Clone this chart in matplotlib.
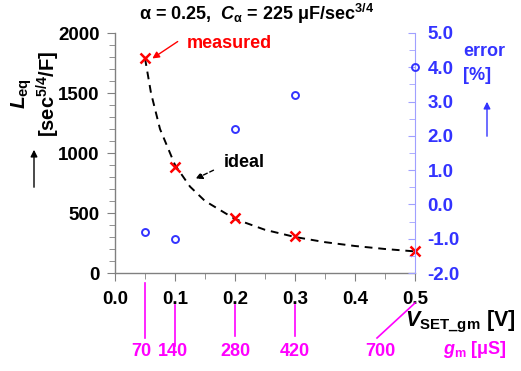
import matplotlib
matplotlib.use("Agg")
import matplotlib.pyplot as plt
from matplotlib.ticker import MultipleLocator, FormatStrFormatter

plt.rcParams['font.family'] = ['Liberation Sans', 'DejaVu Sans']
plt.rcParams['mathtext.fontset'] = 'custom'
plt.rcParams['mathtext.rm'] = 'Liberation Sans:bold'
plt.rcParams['mathtext.it'] = 'Liberation Sans:bold:italic'
plt.rcParams['mathtext.bf'] = 'Liberation Sans:bold'

# Data
v_set = [0.05, 0.1, 0.2, 0.3, 0.5]
l_measured = [1790, 880, 460, 305, 185]
error_pct = [-0.8, -1.0, 2.2, 3.2, 4.0]
v_ideal = [0.05, 0.06, 0.075, 0.1, 0.125, 0.15, 0.2, 0.25, 0.3, 0.35, 0.4, 0.45, 0.5]
l_ideal = [1790, 1500, 1200, 900, 720, 600, 450, 360, 300, 257, 225, 200, 180]
gm_labels = ['70', '140', '280', '420', '700']

W, H = 521, 371
fig = plt.figure(figsize=(W / 100, H / 100), dpi=100)
ax = fig.add_axes([115 / W, 1 - 273 / H, 300 / W, 240 / H])

FS = 13
TFS = 13.5

ax.plot(v_ideal, l_ideal, linestyle=(0, (4, 3)), color='black', lw=1.4, zorder=2)
ax.plot(v_set, l_measured, linestyle='none', marker='x', color='red',
        markersize=7.5, markeredgewidth=1.8, clip_on=False, zorder=4)

ax.set_xlim(0, 0.5)
ax.set_ylim(0, 2000)
ax.xaxis.set_major_locator(MultipleLocator(0.1))
ax.xaxis.set_minor_locator(MultipleLocator(0.05))
ax.yaxis.set_major_locator(MultipleLocator(500))
ax.yaxis.set_minor_locator(MultipleLocator(100))
ax.xaxis.set_major_formatter(FormatStrFormatter('%.1f'))
for s in ['top', 'right']:
    ax.spines[s].set_visible(False)
for s in ['left', 'bottom']:
    ax.spines[s].set_color('#808080')
    ax.spines[s].set_linewidth(1.0)
ax.tick_params(axis='both', which='both', direction='out', color='#808080')
ax.tick_params(axis='both', which='major', length=6, labelsize=TFS)
ax.tick_params(axis='both', which='minor', length=4)
ax.tick_params(axis='y', pad=5)
ax.tick_params(axis='x', pad=7)
for lab in ax.get_xticklabels() + ax.get_yticklabels():
    lab.set_fontweight('bold')

ax2 = ax.twinx()
ax2.plot(v_set, error_pct, linestyle='none', marker='o', markerfacecolor='none',
         markeredgecolor='#3333ff', markersize=5, markeredgewidth=1.4, clip_on=False, zorder=4)
ax2.set_ylim(-2.0, 5.0)
ax2.yaxis.set_major_locator(MultipleLocator(1.0))
ax2.yaxis.set_minor_locator(MultipleLocator(0.5))
ax2.yaxis.set_major_formatter(FormatStrFormatter('%.1f'))
for s in ['top', 'left', 'bottom']:
    ax2.spines[s].set_visible(False)
ax2.spines['right'].set_color('#a0a0ff')
ax2.tick_params(axis='y', which='both', direction='in', color='#a0a0ff', labelcolor='#3333ff')
ax2.tick_params(axis='y', which='major', length=5, labelsize=TFS, pad=9)
ax2.tick_params(axis='y', which='minor', length=4)
for lab in ax2.get_yticklabels():
    lab.set_fontweight('bold')

# Title
fig.text(257 / W, 1 - 14 / H, 'α = 0.25,  $C_{\\rm α}$ = 225 μF/sec$^{\\rm 3/4}$',
         ha='center', va='center', fontsize=FS, fontweight='bold')

# Left y label
fig.text(22 / W, 1 - 94 / H, r'$L_{\rm eq}$', rotation=90, ha='center', va='center', fontsize=15)
fig.text(48 / W, 1 - 94 / H, r'[sec$^{\rm 5/4}$/F]', rotation=90, ha='center', va='center',
         fontsize=14.5, fontweight='bold')
ax.annotate('', xy=(34, H - 147), xycoords='figure pixels', xytext=(34, H - 190),
            textcoords='figure pixels',
            arrowprops=dict(arrowstyle='-|>', color='black', lw=1, mutation_scale=10))

# Right label
fig.text(463 / W, 1 - 52 / H, 'error', color='#3333ff', ha='left', va='center', fontsize=FS, fontweight='bold')
fig.text(463 / W, 1 - 75 / H, '[%]', color='#3333ff', ha='left', va='center', fontsize=FS, fontweight='bold')
ax.annotate('', xy=(487, H - 99), xycoords='figure pixels', xytext=(487, H - 139),
            textcoords='figure pixels',
            arrowprops=dict(arrowstyle='-|>', color='#3333ff', lw=1, mutation_scale=10))

# measured / ideal annotations
ax.annotate('', xy=(150, H - 60), xycoords='figure pixels', xytext=(180, H - 40),
            textcoords='figure pixels',
            arrowprops=dict(arrowstyle='-|>', color='red', lw=1, mutation_scale=10))
fig.text(187 / W, 1 - 43 / H, 'measured', color='red', ha='left', va='center', fontsize=FS, fontweight='bold')
ax.annotate('', xy=(193, H - 180), xycoords='figure pixels', xytext=(216, H - 169),
            textcoords='figure pixels',
            arrowprops=dict(arrowstyle='-|>', color='black', lw=1, linestyle=(0, (3, 2)), mutation_scale=10))
fig.text(224 / W, 1 - 162 / H, 'ideal', color='black', ha='left', va='center', fontsize=FS, fontweight='bold')

# x label
fig.text(405 / W, 1 - 322 / H, r'$V_{\rm SET\_gm}$ [V]', ha='left', va='center', fontsize=15.5, fontweight='bold')

# gm labels and lines
mag = '#ff00ff'
line_tops = [283, 305, 305, 305, 303]
line_bots = [338, 346, 336, 336, 338]
label_x_px = [141, 173, 235, 295, 380]
for i, (v, lab) in enumerate(zip(v_set, gm_labels)):
    x0 = ax.transData.transform((v, 0))[0]
    top_y = H - line_tops[i]
    bot_y = H - line_bots[i]
    x1 = label_x_px[i] - 3 if i == 4 else x0
    fig.add_artist(plt.Line2D([x0, x1], [top_y, bot_y], transform=None, color=mag, lw=1.2))
    fig.text(label_x_px[i] / W, 1 - 351 / H, lab, color=mag, ha='center', va='center',
             fontsize=FS, fontweight='bold')
fig.text(443 / W, 1 - 350 / H, '$g_{\\rm m}$ [μS]', color=mag, ha='left', va='center',
         fontsize=FS, fontweight='bold')

fig.savefig('out.png', dpi=100)
